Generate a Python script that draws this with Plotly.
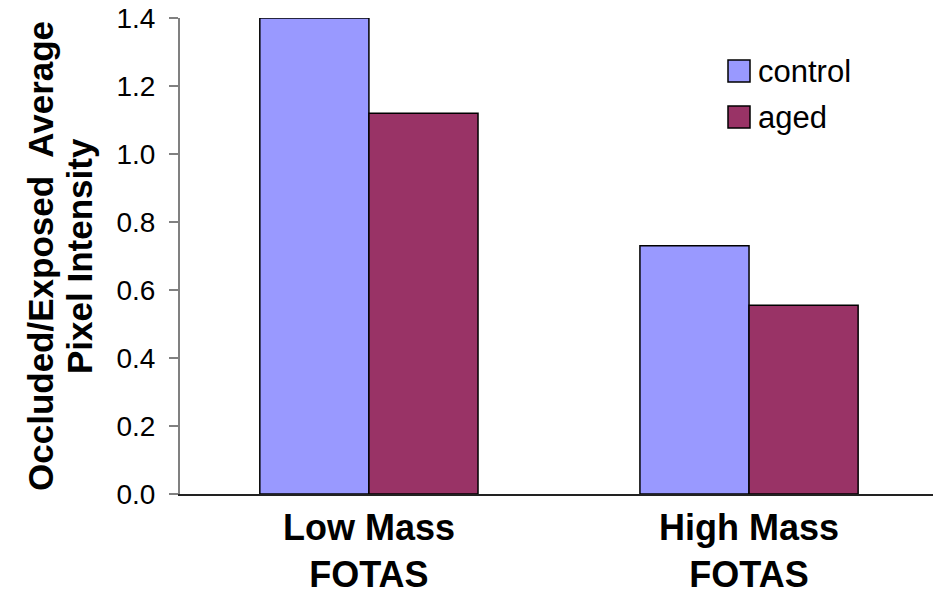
import plotly.graph_objects as go

categories = ["Low Mass<br>FOTAS", "High Mass<br>FOTAS"]
control = [1.40, 0.73]
aged = [1.12, 0.555]
series_names = ["control", "aged"]
series_colors = ["#9999FF", "#993366"]
y_title_lines = ["Occluded/Exposed  Average", "Pixel Intensity"]
y_ticks = [0.0, 0.2, 0.4, 0.6, 0.8, 1.0, 1.2, 1.4]

W, H = 933, 594
L, R, T, B = 180, 0, 18, 100
pw, ph = W - L - R, H - T - B

def px_x(x):
    return (x - L) / pw

def px_y(y):
    return (H - B - y) / ph

fig = go.Figure()
for name, vals, col in zip(series_names, [control, aged], series_colors):
    fig.add_trace(go.Bar(
        x=categories, y=vals, name=name, showlegend=False,
        marker=dict(color=col, line=dict(color="#000000", width=1.5)),
    ))

font_family = "Liberation Sans, Arial, sans-serif"

fig.update_layout(
    width=W, height=H,
    margin=dict(l=L, r=R, t=T, b=B, pad=0, autoexpand=False),
    paper_bgcolor="white", plot_bgcolor="white",
    barmode="group", bargap=0.426, bargroupgap=0,
    font=dict(family=font_family, color="black"),
    xaxis=dict(
        range=[-0.497, 1.484], showgrid=False, zeroline=False,
        showline=True, linecolor="#222222", linewidth=2,
        ticks="", ticklabelstandoff=1, automargin=False,
        tickfont=dict(size=36, color="black"),
    ),
    yaxis=dict(
        range=[0, 1.4], showgrid=False, zeroline=False,
        showline=True, linecolor="#808080", linewidth=2,
        ticks="outside", ticklen=9, tickwidth=1.5, tickcolor="#808080",
        tickvals=y_ticks, ticktext=[f"{v:.1f}" for v in y_ticks],
        ticklabelstandoff=8, automargin=False,
        tickfont=dict(size=28, color="black"),
    ),
)

# bold x tick labels
fig.update_xaxes(ticktext=[f"<b>{c}</b>" for c in categories], tickvals=categories)

# y title as two rotated lines
for line, cx in zip(y_title_lines, [40, 79]):
    fig.add_annotation(
        text=f"<b>{line}</b>", textangle=-90, xref="paper", yref="paper",
        x=px_x(cx), y=0.5, xanchor="center", yanchor="middle",
        showarrow=False, font=dict(size=35, color="black"),
    )

# legend drawn manually
legend_rows = [(60, 82), (106, 128)]
for name, col, (y0, y1) in zip(series_names, series_colors, legend_rows):
    fig.add_shape(type="rect", xref="paper", yref="paper",
                  x0=px_x(728), x1=px_x(750), y0=px_y(y1), y1=px_y(y0),
                  fillcolor=col, line=dict(color="#000000", width=1.5))
    fig.add_annotation(text=name, xref="paper", yref="paper",
                       x=px_x(756), y=px_y((y0 + y1) / 2),
                       xanchor="left", yanchor="middle", showarrow=False,
                       font=dict(size=31, color="black"))

fig.write_html("out.html")
